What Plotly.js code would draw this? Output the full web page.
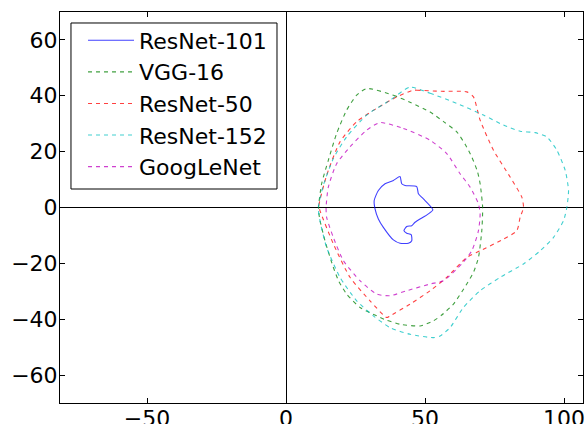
<!DOCTYPE html>
<html>
<head>
<meta charset="utf-8">
<script src="https://cdn.plot.ly/plotly-3.0.1.min.js"></script>
<style>html,body{margin:0;padding:0;background:#fff;}#chart{width:587px;height:424px;}</style>
</head>
<body>
<div id="chart"></div>
<script>
const seriesNames = ["ResNet-101", "VGG-16", "ResNet-50", "ResNet-152", "GoogLeNet"];

const resnet101X = [41.0, 41.6, 42.8, 47.0, 47.6, 49.4, 52.8, 51.2, 46.4, 45.2, 43.4, 42.4, 43.4, 45.0, 45.2, 44.0, 41.0, 38.6, 35.0, 33.2, 32.0, 31.7, 33.2, 35.6, 38.6, 41.0];
const resnet101Y = [11.1, 8.5, 7.9, 7.5, 4.9, 3.1, -0.8, -2.3, -5.3, -6.5, -6.8, -8.3, -9.2, -9.7, -11.9, -12.8, -12.8, -11.6, -7.1, -4.1, -0.5, 2.5, 6.1, 8.5, 9.7, 11.1];

const vgg16X = [29.0, 38.6, 45.0, 51.8, 57.0, 61.4, 64.5, 66.8, 68.8, 69.8, 70.7, 70.4, 69.2, 67.5, 65.0, 60.2, 56.0, 53.0, 48.2, 41.0, 36.0, 32.6, 26.6, 21.8, 19.0, 17.0, 14.0, 12.0, 11.7, 12.8, 15.2, 18.2, 21.8, 25.4, 29.0];
const vgg16Y = [42.6, 40.2, 37.5, 34.2, 30.5, 27.1, 22.5, 18.1, 13.0, 8.5, 0.1, -8.3, -17.9, -23.0, -27.4, -34.6, -38.5, -40.6, -42.4, -41.8, -40.3, -38.8, -35.8, -31.0, -26.5, -21.4, -11.9, -3.5, 0.0, 8.5, 16.9, 26.5, 34.9, 40.2, 42.6];

const resnet50X = [45.8, 47.0, 56.0, 65.0, 67.4, 69.8, 74.6, 80.6, 84.8, 85.4, 84.2, 83.0, 78.2, 69.8, 65.0, 57.8, 51.8, 44.6, 37.4, 36.2, 30.2, 23.0, 17.0, 12.2, 11.8, 14.6, 19.4, 25.4, 32.6, 39.8, 45.8];
const resnet50Y = [42.0, 42.0, 41.6, 41.4, 39.6, 31.3, 20.5, 10.9, 3.7, 0.0, -3.5, -8.3, -11.3, -15.5, -17.9, -25.0, -29.8, -34.6, -38.8, -39.4, -33.4, -25.0, -13.0, -1.1, 0.5, 11.5, 23.5, 30.7, 35.5, 39.6, 42.0];

const resnet152X = [44.6, 51.8, 61.4, 71.0, 78.2, 84.2, 89.6, 93.8, 97.4, 100.4, 101.6, 101.0, 99.8, 96.2, 91.4, 85.4, 77.0, 69.8, 63.8, 59.0, 55.4, 53.0, 44.6, 37.4, 31.4, 25.4, 19.4, 14.6, 12.2, 11.6, 13.4, 17.0, 21.8, 29.0, 37.4, 44.6];
const resnet152Y = [43.1, 40.9, 37.3, 33.1, 29.5, 27.3, 26.8, 25.3, 20.5, 13.3, 6.1, 0.1, -4.7, -10.7, -15.5, -20.2, -25.0, -29.8, -35.8, -43.0, -46.0, -46.6, -45.4, -43.0, -38.8, -33.4, -25.0, -14.3, -4.7, 0.0, 7.9, 17.5, 25.3, 33.1, 38.4, 43.1];

const googlenetX = [33.8, 42.2, 51.8, 57.8, 62.6, 66.2, 69.2, 69.8, 69.2, 66.8, 63.2, 56.6, 51.8, 43.4, 37.4, 32.6, 26.6, 20.6, 17.0, 14.6, 14.4, 15.2, 18.2, 23.0, 29.0, 33.8];
const googlenetY = [30.4, 28.3, 24.1, 19.3, 12.1, 7.3, 1.3, -2.3, -8.3, -15.5, -20.2, -26.2, -27.4, -29.8, -31.6, -31.0, -26.2, -19.0, -10.7, -3.5, 0.0, 7.3, 15.7, 21.7, 27.7, 30.4];

const xTicks = [-50, 0, 50, 100];
const yTicks = [-60, -40, -20, 0, 20, 40, 60];

const xs = [resnet101X, vgg16X, resnet50X, resnet152X, googlenetX];
const ys = [resnet101Y, vgg16Y, resnet50Y, resnet152Y, googlenetY];
const colors = ["#0000ff", "#008000", "#ff0000", "#00bfbf", "#bf00bf"];
const dashes = ["solid", "4px,4px", "4px,4px", "4px,4px", "4px,4px"];

const traces = seriesNames.map((n, i) => ({
  type: "scatter", mode: "lines", name: n, x: xs[i], y: ys[i],
  line: {color: colors[i], width: 1.1, dash: dashes[i], shape: "spline", smoothing: 0.6},
  opacity: 0.75
}));

const fmt = v => v < 0 ? "\u2212" + Math.abs(v) : String(v);

const axisCommon = {
  showgrid: false, zeroline: true, zerolinecolor: "#000", zerolinewidth: 1,
  showline: true, linecolor: "#000", linewidth: 1, mirror: "ticks",
  ticks: "inside", ticklen: 5, tickcolor: "#000",
  tickfont: {family: "DejaVu Sans", size: 22, color: "#000"}
};

const layout = {
  width: 587, height: 424,
  margin: {l: 60, r: 4, t: 12, b: 21},
  paper_bgcolor: "#fff", plot_bgcolor: "#fff",
  xaxis: Object.assign({}, axisCommon, {range: [-81.3, 106.8], tickvals: xTicks, ticktext: xTicks.map(fmt), ticklabelstandoff: -4}),
  yaxis: Object.assign({}, axisCommon, {range: [-70, 70], tickvals: yTicks, ticktext: yTicks.map(fmt), ticklabelstandoff: -3}),
  showlegend: true,
  legend: {x: 0.044, y: 0.981, xanchor: "left", yanchor: "top", bgcolor: "rgba(0,0,0,0)",
    borderwidth: 0, itemwidth: 46,
    font: {family: "DejaVu Sans", size: 22, color: "#000"}},
  shapes: [{type: "rect", xref: "paper", yref: "paper", x0: 0.0210, x1: 0.4149, y0: 0.5473, y1: 0.9719,
    line: {color: "#000", width: 1}, fillcolor: "rgba(0,0,0,0)", layer: "above"}]
};

Plotly.newPlot("chart", traces, layout, {displayModeBar: false, staticPlot: true});
</script>
</body>
</html>
